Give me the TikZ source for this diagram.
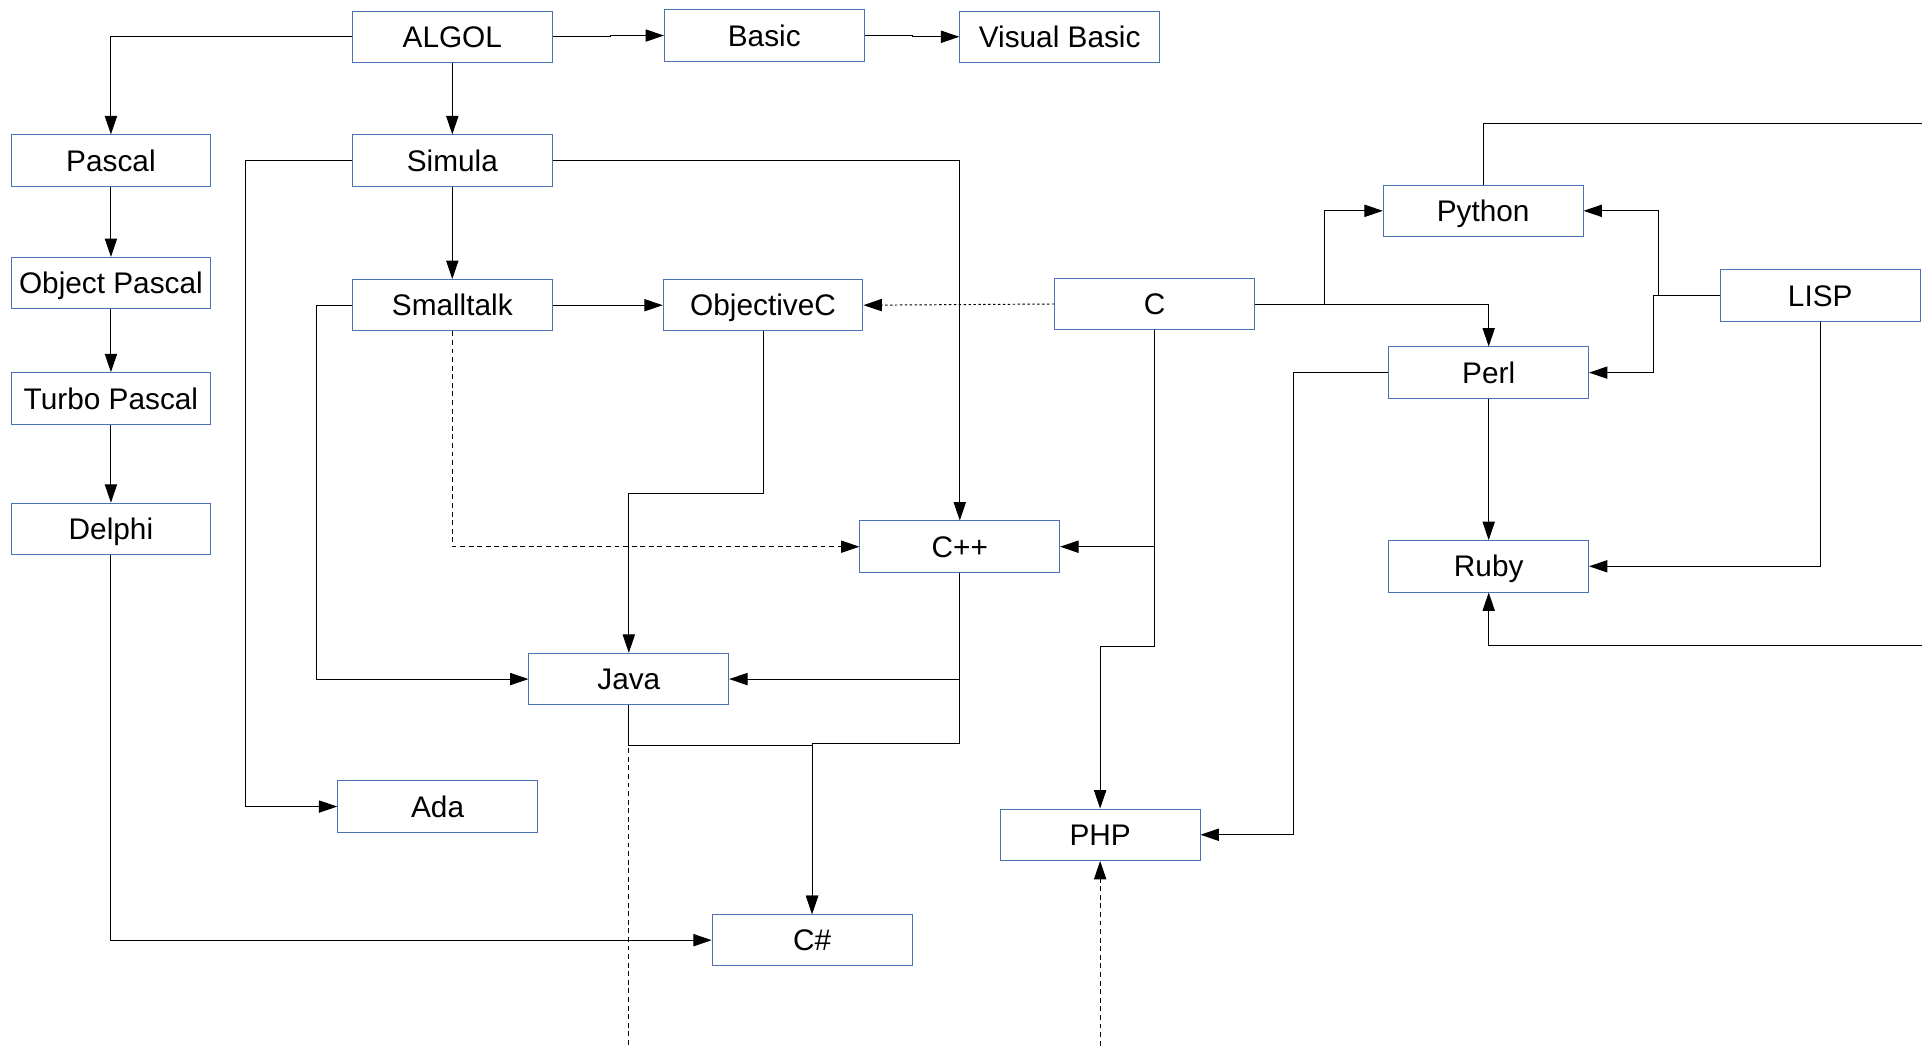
\documentclass[tikz,border=0pt]{standalone}
\usepackage{fontspec}
\setmainfont{Liberation Sans}
\usetikzlibrary{arrows.meta}
\definecolor{boxblue}{RGB}{74,114,182}
\tikzset{
  lang/.style={draw=boxblue, line width=0.75pt, fill=white, minimum width=163pt, minimum height=42pt, inner sep=0pt,
    text height=19pt, text depth=1.6pt, font=\fontsize{24.3}{28}\selectfont},
  arr/.style={line width=0.8pt, -{Triangle[length=15pt,width=10pt]}},
  plain/.style={line width=0.8pt},
  dashedline/.style={line width=0.8pt, dash pattern=on 4pt off 3pt},
  dottedline/.style={line width=0.8pt, dash pattern=on 2pt off 2pt},
}
\begin{document}
\begin{tikzpicture}[x=1pt,y=-1pt]
\path[use as bounding box] (0,0) rectangle (1568,853);
% nodes
\node[lang] (algol) at (369,30) {ALGOL};
\node[lang] (basic) at (623.5,29) {Basic};
\node[lang] (vbasic) at (864.5,30) {Visual Basic};
\node[lang] (pascal) at (90.5,131) {Pascal};
\node[lang] (simula) at (369,131) {Simula};
\node[lang] (opascal) at (90.5,231) {Object Pascal};
\node[lang] (smalltalk) at (369,249) {Smalltalk};
\node[lang] (objc) at (622.5,249) {ObjectiveC};
\node[lang] (c) at (942,248) {C};
\node[lang] (python) at (1210,172) {Python};
\node[lang] (lisp) at (1485,241) {LISP};
\node[lang] (perl) at (1214.5,304) {Perl};
\node[lang] (tpascal) at (90.5,325) {Turbo Pascal};
\node[lang] (delphi) at (90.5,431.5) {Delphi};
\node[lang] (cpp) at (783,446) {C++};
\node[lang] (ruby) at (1214.5,462) {Ruby};
\node[lang] (java) at (513,554) {Java};
\node[lang] (ada) at (357,658) {Ada};
\node[lang] (php) at (897.5,681) {PHP};
\node[lang] (csharp) at (662.5,767) {C\#};
% free ends
\coordinate (javaend) at (513,853);
\coordinate (phpstart) at (897.5,853);
\coordinate (pyend) at (1568,101);
\coordinate (rubystart) at (1568,527);
% connectors
\draw[arr] (algol.west) -| (pascal.north);
\draw[arr] (algol.east) -- ++(47,0) |- (basic.west);
\draw[arr] (basic.east) -- ++(39,0) |- (vbasic.west);
\draw[arr] (algol.south) -- (simula.north);
\draw[arr] (simula.south) -- (smalltalk.north);
\draw[arr] (simula.east) -| (cpp.north);
\draw[arr] (simula.west) -- ++(-87,0) |- (ada.west);
\draw[arr] (pascal.south) -- (opascal.north);
\draw[arr] (opascal.south) -- (tpascal.north);
\draw[arr] (tpascal.south) -- (delphi.north);
\draw[arr] (delphi.south) |- (csharp.west);
\draw[arr] (smalltalk.east) -- (objc.west);
\draw[arr] (smalltalk.west) -- ++(-29,0) |- (java.west);
\draw[dashedline, -{Triangle[length=15pt,width=10pt]}] (smalltalk.south) |- (cpp.west);
\draw[dottedline, -{Triangle[length=15pt,width=10pt]}] (c.west) -- (objc.east);
\draw[arr] (objc.south) -- ++(0,132) -| (java.north);
\draw[arr] (c.south) |- (cpp.east);
\draw[arr] (c.south) -- ++(0,258) -| (php.north);
\draw[arr] (cpp.south) |- (java.east);
\draw[arr] (cpp.south) -- ++(0,139) -| (csharp.north);
\draw[arr] (java.south) -- ++(0,33) -| (csharp.north);
\draw[dashedline] (java.south) -- (javaend);
\draw[dashedline, -{Triangle[length=15pt,width=10pt]}] (phpstart) -- (php.south);
\draw[arr] (c.east) -- ++(57,0) |- (python.west);
\draw[arr] (c.east) -| (perl.north);
\draw[arr] (lisp.west) -- ++(-50,0) |- (python.east);
\draw[arr] (lisp.west) -- ++(-54,0) |- (perl.east);
\draw[arr] (lisp.south) |- (ruby.east);
\draw[arr] (perl.south) -- (ruby.north);
\draw[arr] (perl.west) -- ++(-77,0) |- (php.east);
\draw[plain] (python.north) |- (pyend);
\draw[arr] (rubystart) -| (ruby.south);
\end{tikzpicture}
\end{document}
